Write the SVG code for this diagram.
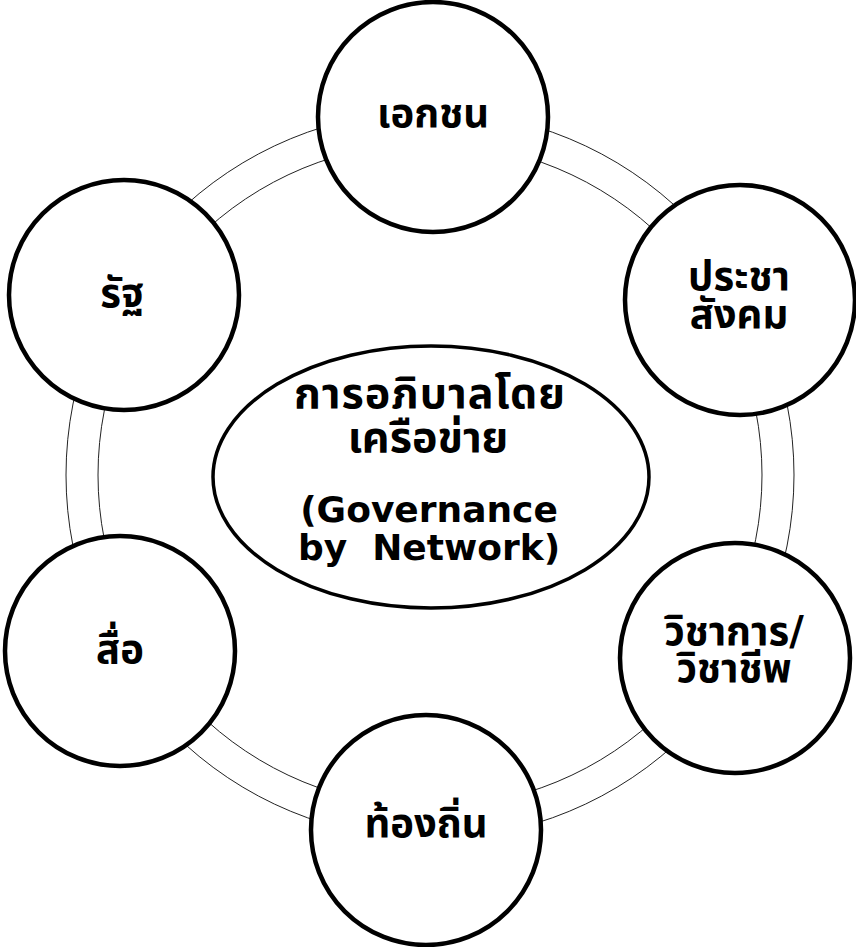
<svg xmlns="http://www.w3.org/2000/svg" width="856" height="947" viewBox="0 0 856 947">
<style>
.ring{fill:none;stroke:#222;stroke-width:1}
.node{fill:#fff;stroke:#000;stroke-width:4.5}
.hub{fill:#fff;stroke:#000;stroke-width:3.5}
.lbl{font-family:"DejaVu Sans","Noto Sans Thai","Noto Sans","Liberation Sans",sans-serif;font-weight:bold;font-size:40px;fill:#000;text-anchor:middle}
.en{font-size:36px}
.th{font-size:43px}
</style>
<rect width="856" height="947" fill="#fff"/>
<g id="connectors">
<circle class="ring" cx="430" cy="475" r="364"/>
<circle class="ring" cx="430" cy="475" r="332"/>
</g>
<g id="hub">
<ellipse class="hub" cx="431" cy="477" rx="218" ry="131"/>
<text class="lbl th" x="430" y="408" letter-spacing="1">การอภิบาลโดย</text>
<text class="lbl th" x="428" y="452">เครือข่าย</text>
<text class="lbl en" x="429" y="522">(Governance</text>
<text class="lbl en" x="429" y="560" xml:space="preserve">by  Network)</text>
</g>
<g id="n-private">
<circle class="node" cx="433" cy="117" r="115"/>
<text class="lbl" x="433" y="127">เอกชน</text>
</g>
<g id="n-civil">
<circle class="node" cx="740" cy="300" r="115"/>
<text class="lbl" x="739" y="290">ประชา</text>
<text class="lbl" x="739" y="328">สังคม</text>
</g>
<g id="n-academic">
<circle class="node" cx="735" cy="658" r="115"/>
<text class="lbl" x="734" y="645">วิชาการ/</text>
<text class="lbl" x="734" y="682">วิชาชีพ</text>
</g>
<g id="n-local">
<circle class="node" cx="426" cy="830" r="115"/>
<text class="lbl" x="426" y="837">ท้องถิ่น</text>
</g>
<g id="n-media">
<circle class="node" cx="120" cy="651" r="115"/>
<text class="lbl" x="120" y="663">สื่อ</text>
</g>
<g id="n-state">
<circle class="node" cx="124" cy="295" r="115"/>
<text class="lbl" x="122" y="307">รัฐ</text>
</g>
</svg>
